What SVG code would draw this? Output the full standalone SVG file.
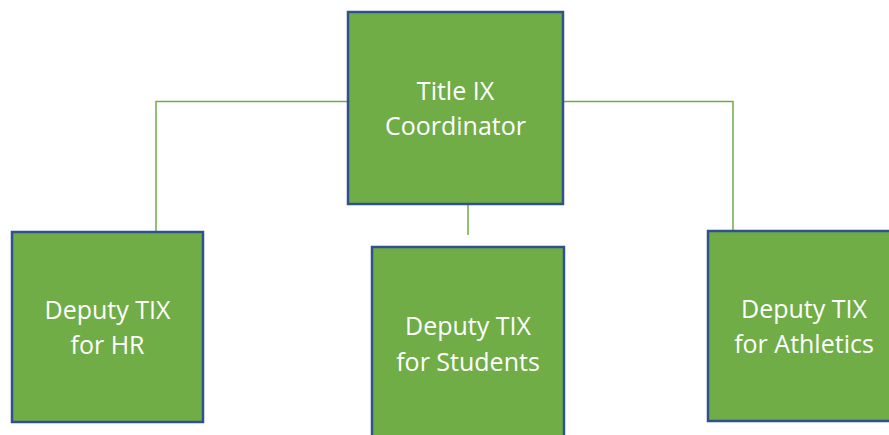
<svg xmlns="http://www.w3.org/2000/svg" width="889" height="435" viewBox="0 0 889 435">
<style>
.box{fill:#70AD47;stroke:#2F528F;stroke-width:2.5}
.lbl{fill:#FFFFFF;font-family:"Open Sans","Noto Sans",sans-serif;font-size:25px;text-anchor:middle}
.conn{fill:none;stroke:#70AD47;stroke-width:1.5}
</style>
<rect width="889" height="435" fill="#FFFFFF"/>
<g id="connectors">
<polyline class="conn" points="347,101.5 156,101.5 156,231"/>
<polyline class="conn" points="564,101.5 733,101.5 733,230"/>
<line class="conn" x1="468" y1="204" x2="468" y2="235"/>
</g>
<g id="coordinator">
<rect class="box" x="348" y="12" width="215" height="192"/>
<text class="lbl" x="455.5" y="100">Title IX</text>
<text class="lbl" x="455.5" y="135">Coordinator</text>
</g>
<g id="deputy-hr">
<rect class="box" x="12" y="232" width="191" height="190"/>
<text class="lbl" x="107.5" y="319">Deputy TIX</text>
<text class="lbl" x="107.5" y="354">for HR</text>
</g>
<g id="deputy-students">
<rect class="box" x="372" y="247" width="192" height="200"/>
<text class="lbl" x="468" y="335">Deputy TIX</text>
<text class="lbl" x="468" y="371">for Students</text>
</g>
<g id="deputy-athletics">
<rect class="box" x="708" y="231" width="192" height="190"/>
<text class="lbl" x="804" y="318">Deputy TIX</text>
<text class="lbl" x="804" y="353">for Athletics</text>
</g>
</svg>
